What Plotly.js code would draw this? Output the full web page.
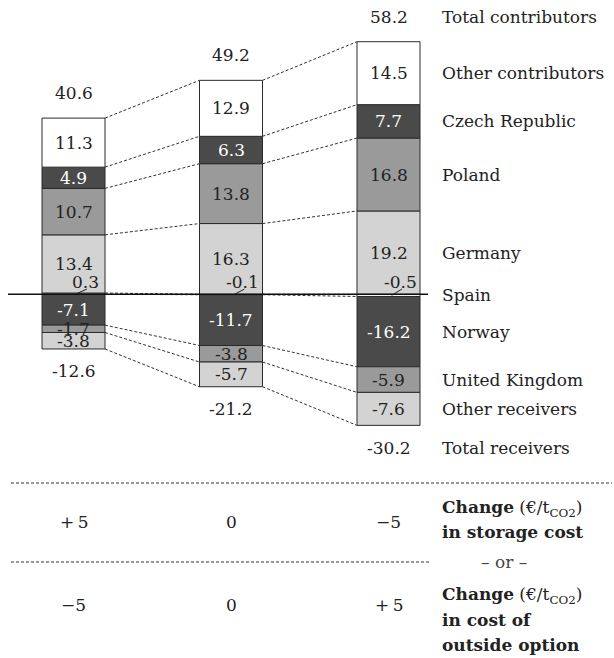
<!DOCTYPE html>
<html><head><meta charset="utf-8">
<script src="https://cdn.plot.ly/plotly-3.0.1.min.js"></script>
<style>html,body{margin:0;padding:0;background:#fff}</style>
</head><body><div id="chart" style="width:614px;height:658px"></div>
<script>
// ---- data ----
const columns = [0, 1, 2];
const seriesNames = ['Spain', 'Germany', 'Poland', 'Czech Republic', 'Other contributors', 'Norway', 'United Kingdom', 'Other receivers'];
const spain = [0.3, -0.1, -0.5];
const germany = [13.4, 16.3, 19.2];
const poland = [10.7, 13.8, 16.8];
const czech = [4.9, 6.3, 7.7];
const otherContributors = [11.3, 12.9, 14.5];
const norway = [-7.1, -11.7, -16.2];
const unitedKingdom = [-1.7, -3.8, -5.9];
const otherReceivers = [-3.8, -5.7, -7.6];
const totalContributors = [40.6, 49.2, 58.2];
const totalReceivers = [-12.6, -21.2, -30.2];
const storageChange = ['+\u20095', '0', '\u22125'];
const outsideChange = ['\u22125', '0', '+\u20095'];
const storageLabel = ['<b>Change</b> (\u20ac/t<sub>CO2</sub>)', '<b>in storage cost</b>'];
const outsideLabel = ['<b>Change</b> (\u20ac/t<sub>CO2</sub>)', '<b>in cost of</b>', '<b>outside option</b>'];

// ---- styles ----
const seriesColors = ['#ffffff', '#d3d3d3', '#9a9a9a', '#4a4a4a', '#ffffff', '#4a4a4a', '#9a9a9a', '#d3d3d3'];
const labelColors = ['#222', '#222', '#222', '#fff', '#222', '#fff', '#222', '#222'];
const FONT = 'DejaVu Serif, Liberation Serif, serif';
const FS = 17;
const TXT = '#222';
const W = 614, H = 658;

const series = [spain, germany, poland, czech, otherContributors, norway, unitedKingdom, otherReceivers];
const fmt = v => v.toFixed(1);
const font = (c) => ({family: FONT, size: FS, color: c || TXT});

const traces = series.map((vals, k) => ({
  type: 'bar', x: columns, y: vals, name: seriesNames[k], width: 0.4,
  marker: {color: seriesColors[k], line: {color: '#2a2a2a', width: 1}},
  hoverinfo: 'skip', showlegend: false
}));

const annotations = [];
const shapes = [];
const bounds = columns.map(() => []);
const centers = columns.map(() => []);
const tops = [], bottoms = [];

columns.forEach((c, i) => {
  let pos = 0, neg = 0;
  series.forEach((vals, k) => {
    const v = vals[i];
    let base;
    if (v >= 0) { base = pos; pos += v; } else { base = neg; neg += v; }
    const ctr = base + v / 2;
    centers[i].push(ctr);
    if (k === 0) { bounds[i].push(pos, neg); }
    else if (k <= 4) bounds[i].push(pos);
    else bounds[i].push(neg);
    if (k === 0) {
      annotations.push({x: c + 0.075, y: 2.8, xref: 'x', yref: 'y', text: fmt(v), showarrow: false,
        font: font(), xanchor: 'center', yanchor: 'middle'});
      shapes.push({type: 'line', xref: 'x', yref: 'y', x0: c + 0.02, y0: ctr, x1: c + 0.085, y1: 1.2,
        line: {color: '#222', width: 1}});
    } else {
      annotations.push({x: c, y: ctr, xref: 'x', yref: 'y', text: fmt(v), showarrow: false,
        font: font(labelColors[k]), xanchor: 'center', yanchor: 'middle'});
    }
  });
  tops.push(pos); bottoms.push(neg);
  annotations.push({x: c, y: pos + 5.8, xref: 'x', yref: 'y', text: fmt(totalContributors[i]), showarrow: false,
    font: font(), xanchor: 'center', yanchor: 'middle'});
  annotations.push({x: c, y: neg - 5.1, xref: 'x', yref: 'y', text: fmt(totalReceivers[i]), showarrow: false,
    font: font(), xanchor: 'center', yanchor: 'middle'});
});

// connectors between neighbouring columns
for (let i = 0; i < columns.length - 1; i++) {
  bounds[i].forEach((b, j) => {
    shapes.push({type: 'line', xref: 'x', yref: 'y', x0: columns[i] + 0.2, y0: b, x1: columns[i + 1] - 0.2, y1: bounds[i + 1][j],
      line: {color: '#333', width: 1, dash: '3px,2px'}});
  });
}

// right-hand labels, aligned on the last column
const last = columns.length - 1;
const lx = 440 / W;
annotations.push({x: lx, xref: 'paper', y: tops[last] + 5.8, yref: 'y', text: 'Total contributors', showarrow: false,
  xanchor: 'left', yanchor: 'middle', font: font()});
annotations.push({x: lx, xref: 'paper', y: bottoms[last] - 5.1, yref: 'y', text: 'Total receivers', showarrow: false,
  xanchor: 'left', yanchor: 'middle', font: font()});
seriesNames.forEach((n, k) => {
  annotations.push({x: lx, xref: 'paper', y: centers[last][k], yref: 'y', text: n, showarrow: false,
    xanchor: 'left', yanchor: 'middle', font: font()});
});

// zero line
shapes.push({type: 'line', xref: 'paper', yref: 'y', x0: 8 / W, x1: 428 / W, y0: 0, y1: 0, line: {color: '#111', width: 1.5}});

// lower panel
const py = p => 1 - p / H;
shapes.push({type: 'line', xref: 'paper', yref: 'paper', x0: 11 / W, x1: 612 / W, y0: py(483), y1: py(483),
  line: {color: '#333', width: 1, dash: '3px,2px'}});
shapes.push({type: 'line', xref: 'paper', yref: 'paper', x0: 11 / W, x1: 430 / W, y0: py(562), y1: py(562),
  line: {color: '#333', width: 1, dash: '3px,2px'}});
storageChange.forEach((t, i) => annotations.push({x: columns[i], y: py(522), xref: 'x', yref: 'paper', text: t,
  xanchor: 'center', yanchor: 'middle', showarrow: false, font: font()}));
outsideChange.forEach((t, i) => annotations.push({x: columns[i], y: py(605), xref: 'x', yref: 'paper', text: t,
  xanchor: 'center', yanchor: 'middle', showarrow: false, font: font()}));
const storageY = [508, 532];
storageLabel.forEach((t, j) => annotations.push({x: lx, y: py(storageY[j]), xref: 'paper', yref: 'paper',
  xanchor: 'left', yanchor: 'middle', align: 'left', showarrow: false, text: t, font: font()}));
annotations.push({x: 504 / W, y: py(562), xref: 'paper', yref: 'paper', showarrow: false, xanchor: 'center', yanchor: 'middle',
  text: '\u2013 or \u2013', font: font('#444')});
const outsideY = [595, 620, 645];
outsideLabel.forEach((t, j) => annotations.push({x: lx, y: py(outsideY[j]), xref: 'paper', yref: 'paper',
  xanchor: 'left', yanchor: 'middle', align: 'left', showarrow: false, text: t, font: font()}));

const pxPerUnit = 157.5, zeroX = 73.5, zeroY = 294.3, pxPerVal = 4.34;
const layout = {
  width: W, height: H, margin: {l: 0, r: 0, t: 0, b: 0},
  paper_bgcolor: '#fff', plot_bgcolor: '#fff',
  barmode: 'relative', showlegend: false,
  xaxis: {range: [-zeroX / pxPerUnit, (W - zeroX) / pxPerUnit], visible: false, fixedrange: true},
  yaxis: {range: [-(H - zeroY) / pxPerVal, zeroY / pxPerVal], visible: false, fixedrange: true},
  annotations, shapes, hovermode: false
};
Plotly.newPlot('chart', traces, layout, {staticPlot: true, displayModeBar: false});
</script></body></html>
